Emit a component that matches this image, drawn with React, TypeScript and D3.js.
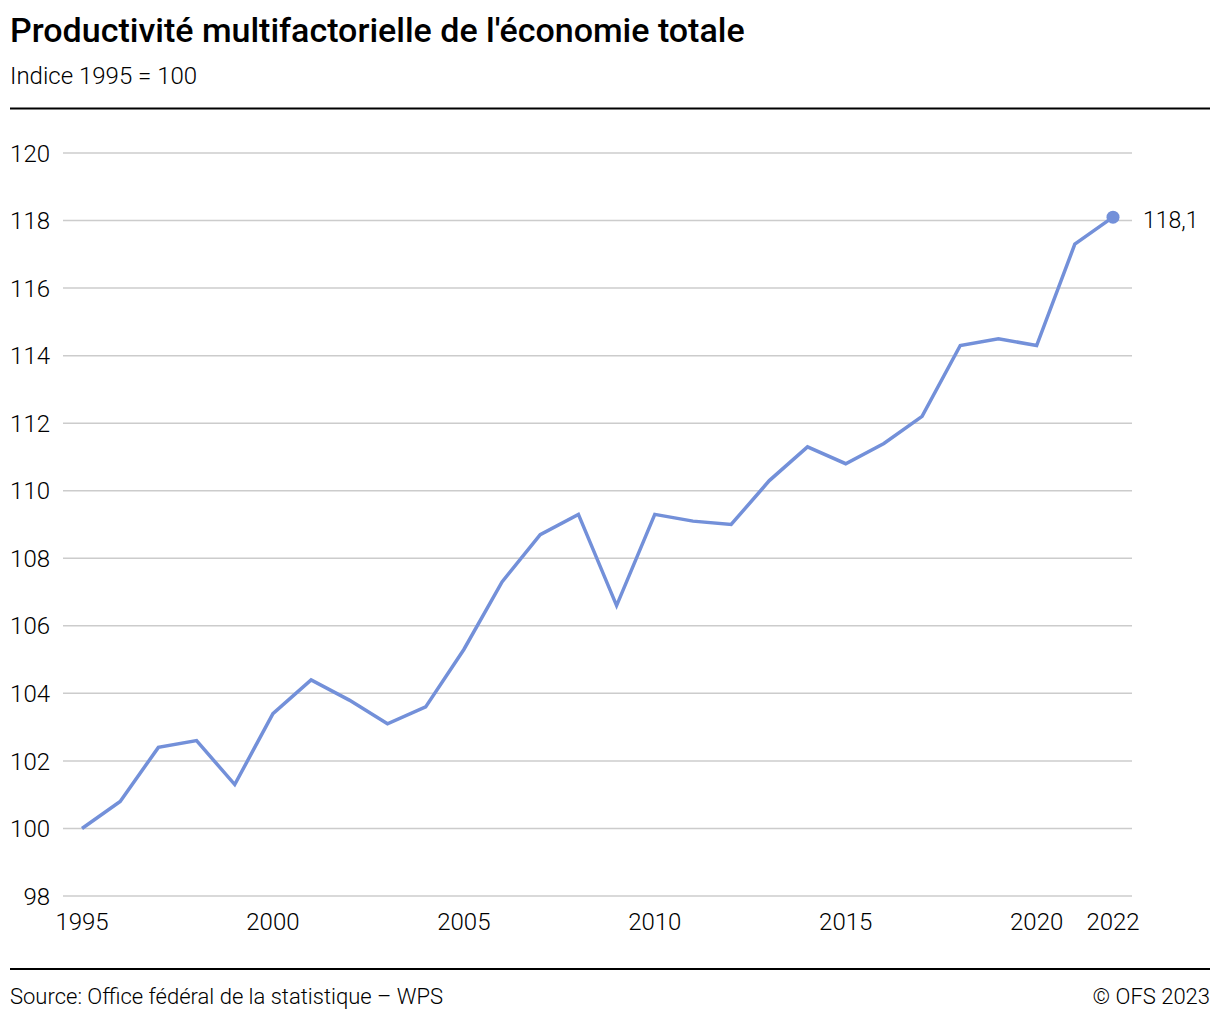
import React from "react";
import * as d3 from "d3";

const years = [1995,1996,1997,1998,1999,2000,2001,2002,2003,2004,2005,2006,2007,2008,2009,2010,2011,2012,2013,2014,2015,2016,2017,2018,2019,2020,2021,2022];
const values = [100,100.8,102.4,102.6,101.3,103.4,104.4,103.8,103.1,103.6,105.3,107.3,108.7,109.3,106.6,109.3,109.1,109.0,110.3,111.3,110.8,111.4,112.2,114.3,114.5,114.3,117.3,118.1];
const yTicks = [98,100,102,104,106,108,110,112,114,116,118,120];
const xTicks = [1995,2000,2005,2010,2015,2020,2022];
const lastLabel = "118,1";

const W = 1220, H = 1020;
const FONT = "Roboto, 'Noto Sans', sans-serif";

export default function App() {
  const x = d3.scaleLinear().domain([1995, 2022]).range([82, 1113]);
  const y = d3.scaleLinear().domain([98, 120]).range([896, 153]);
  const line = d3.line<number>().x((_, i) => x(years[i])).y((d) => y(d));
  const lastX = x(years[years.length - 1]);
  const lastY = y(values[values.length - 1]);
  return (
    <svg width={W} height={H} style={{ position: "absolute", left: 0, top: 0, fontFamily: FONT }}>
      <rect width={W} height={H} fill="#fff" />
      <text x={10} y={42} fontSize={34} fontWeight={500} fill="#000">Productivité multifactorielle de l'économie totale</text>
      <text x={10} y={84} fontSize={24} fontWeight={300} fill="#000">Indice 1995 = 100</text>
      <line x1={10} x2={1210} y1={108.5} y2={108.5} stroke="#000" strokeWidth={2} />
      {yTicks.map((t) => (
        <g key={t}>
          <line x1={63} x2={1132} y1={y(t)} y2={y(t)} stroke="#cccccc" strokeWidth={1.5} />
          <text x={50} y={y(t)} dy="0.36em" textAnchor="end" fontSize={24} fontWeight={300} fill="#000">{t}</text>
        </g>
      ))}
      {xTicks.map((t) => (
        <text key={t} x={x(t)} y={930} textAnchor="middle" fontSize={24} fontWeight={300} fill="#000">{t}</text>
      ))}
      <path d={line(values) || ""} fill="none" stroke="#7390d9" strokeWidth={3.5} strokeLinejoin="miter" />
      <circle cx={lastX} cy={lastY} r={6.5} fill="#7390d9" />
      <text x={lastX + 30} y={lastY} dy="0.48em" fontSize={23} fontWeight={300} fill="#000">{lastLabel}</text>
      <line x1={10} x2={1210} y1={969} y2={969} stroke="#000" strokeWidth={2} />
      <text x={10} y={1004} fontSize={22} fontWeight={300} fill="#000">Source: Office fédéral de la statistique – WPS</text>
      <text x={1210} y={1004} textAnchor="end" fontSize={22} fontWeight={300} fill="#000">© OFS 2023</text>
    </svg>
  );
}
